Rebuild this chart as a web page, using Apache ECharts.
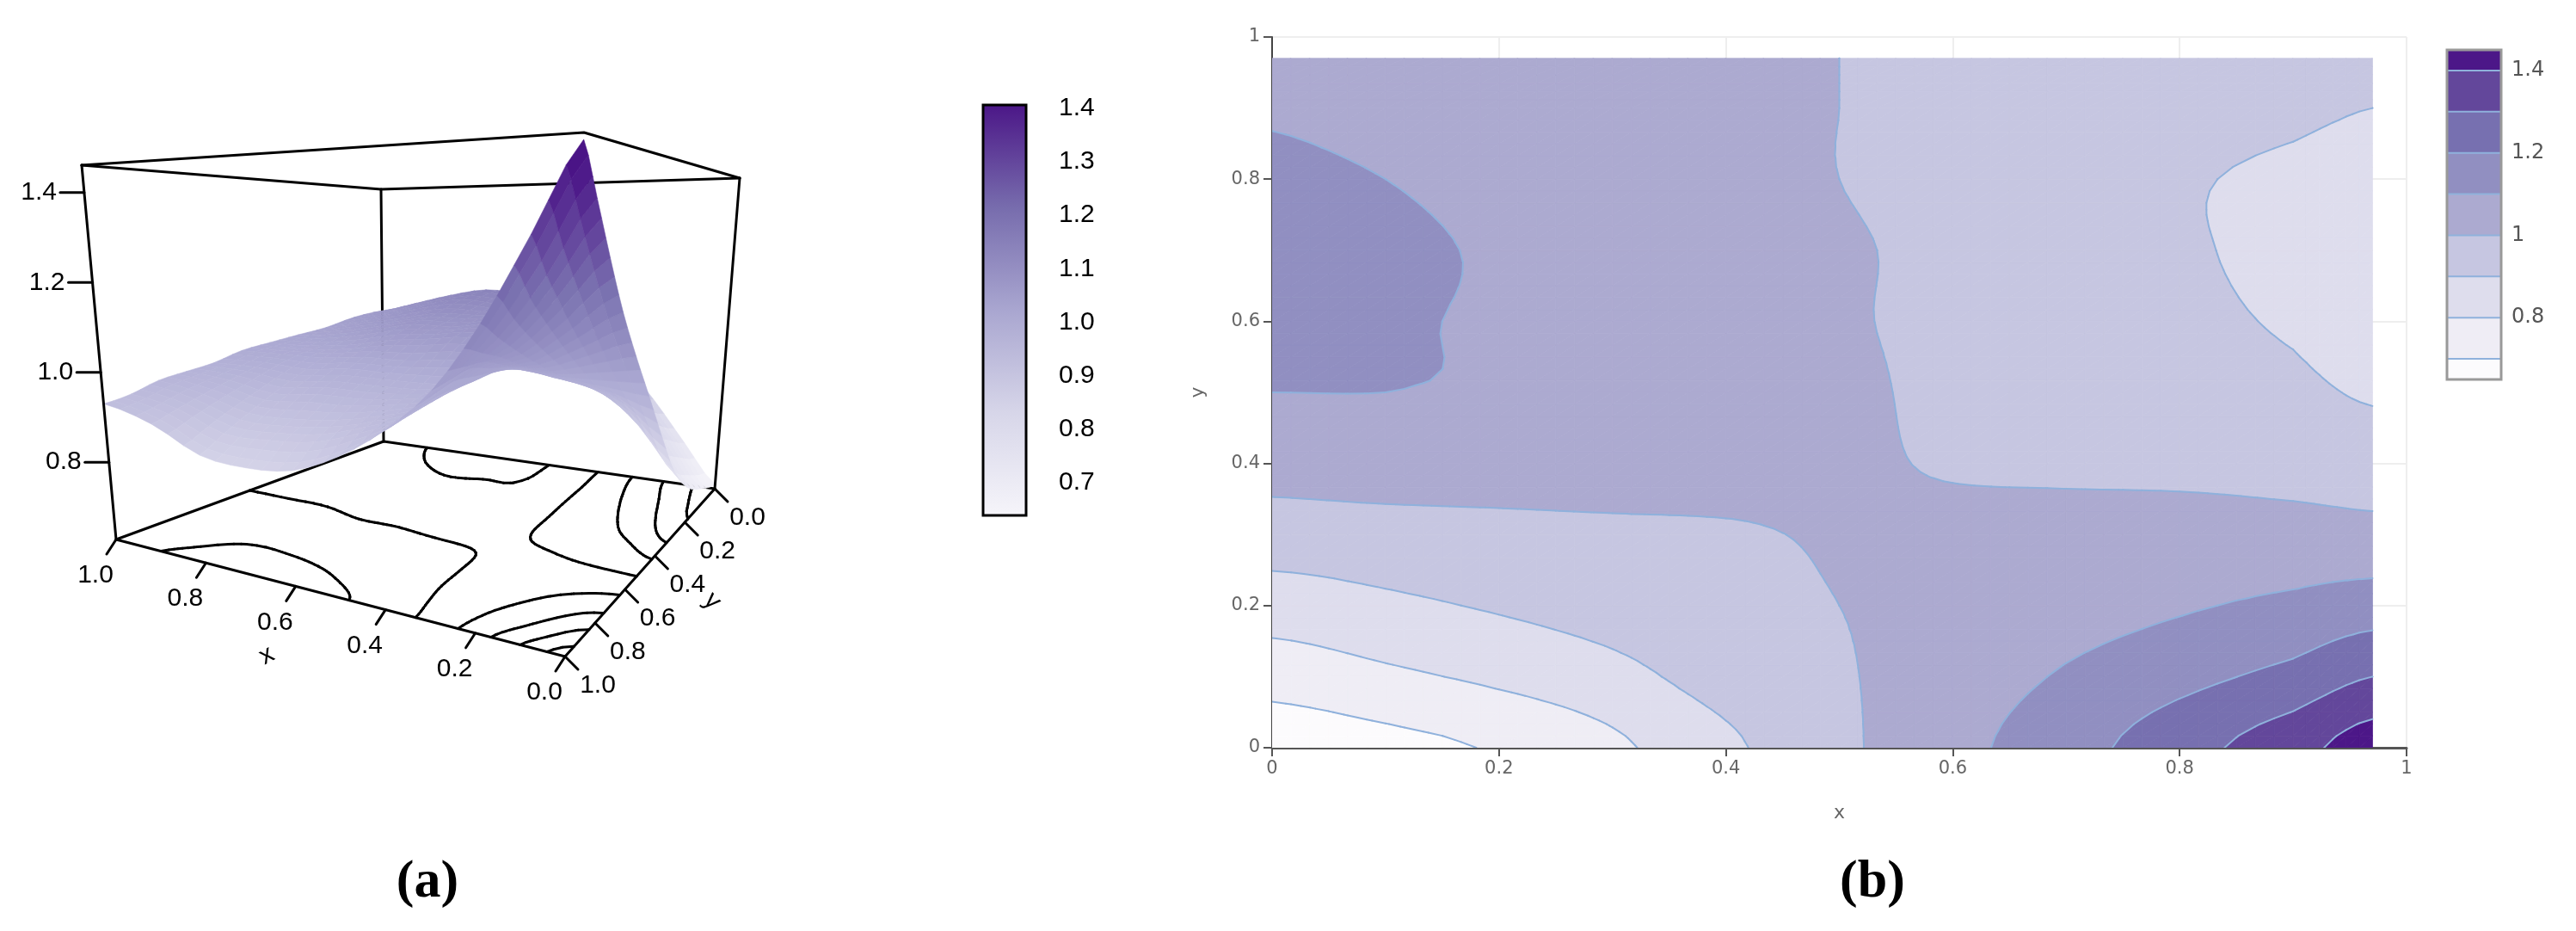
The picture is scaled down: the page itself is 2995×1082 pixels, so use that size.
<!DOCTYPE html>
<html><head><meta charset="utf-8">
<script src="https://cdn.jsdelivr.net/npm/echarts@6/dist/echarts.min.js"></script>
<style>html,body{margin:0;padding:0;background:#fff}#c{width:2995px;height:1082px}</style>
</head><body><div id="c"></div>
<script>
// ---- data ----
const xs = [0, 0.1, 0.2, 0.3, 0.4, 0.5, 0.6, 0.7, 0.8, 0.9, 0.97];
const ys = [0, 0.1, 0.2, 0.3, 0.4, 0.5, 0.6, 0.7, 0.8, 0.9, 0.97];
const z_y00 = [0.64,0.67,0.71,0.78,0.88,0.98,1.07,1.16,1.26,1.36,1.45];
const z_y01 = [0.74,0.78,0.82,0.87,0.94,0.99,1.05,1.11,1.17,1.23,1.30];
const z_y02 = [0.85,0.88,0.91,0.94,0.97,1.00,1.03,1.06,1.09,1.12,1.15];
const z_y03 = [0.95,0.96,0.97,0.98,0.99,1.01,1.03,1.04,1.05,1.04,1.03];
const z_y04 = [1.04,1.05,1.05,1.05,1.04,1.02,0.99,0.98,0.97,0.96,0.95];
const z_y05 = [1.10,1.10,1.09,1.08,1.06,1.02,0.98,0.96,0.94,0.92,0.89];
const z_y06 = [1.13,1.11,1.09,1.07,1.05,1.01,0.98,0.95,0.92,0.89,0.85];
const z_y07 = [1.14,1.12,1.09,1.07,1.04,1.01,0.98,0.95,0.91,0.88,0.84];
const z_y08 = [1.12,1.10,1.07,1.05,1.02,1.00,0.97,0.94,0.91,0.88,0.85];
const z_y09 = [1.09,1.07,1.05,1.03,1.01,1.00,0.98,0.96,0.94,0.92,0.90];
const z_y10 = [1.06,1.05,1.03,1.02,1.01,1.00,0.98,0.97,0.96,0.94,0.93];
const Z = [z_y00,z_y01,z_y02,z_y03,z_y04,z_y05,z_y06,z_y07,z_y08,z_y09,z_y10];
const levels = [0.6,0.7,0.8,0.9,1.0,1.1,1.2,1.3,1.4,1.5];
const bandColors = ['#fcfbfd','#efedf5','#dedded','#c6c6e1','#acaad0','#918fc1','#7770b0','#63479b','#4c1788'];
const ticks3D = [0,0.2,0.4,0.6,0.8,1.0];
const zTicks = [0.8,1.0,1.2,1.4];
const cbTicks = [0.7,0.8,0.9,1.0,1.1,1.2,1.3,1.4];
const legTicks = [0.8,1,1.2,1.4];
const g3 = [0,0.1,0.2,0.3,0.4,0.5,0.6,0.7,0.8,0.9,1.0];

// ---- layout of panel (a) box ----
const B = {c00:[831,568], c10:[446,513], c01:[657,763], c11:[135,627]};
const T = {c00:[860,207], c10:[443,220], c01:[679,154], c11:[95,192]};
const ZMIN = 0.628, ZMAX = 1.461;
function bil(C,x,y){return [0,1].map(k=>C.c00[k]*(1-x)*(1-y)+C.c10[k]*x*(1-y)+C.c01[k]*(1-x)*y+C.c11[k]*x*y);}
function proj(x,y,z){const b=bil(B,x,y),t=bil(T,x,y),s=(z-ZMIN)/(ZMAX-ZMIN);return [b[0]+s*(t[0]-b[0]),b[1]+s*(t[1]-b[1])];}

// smooth (Catmull-Rom) resampling of a grid for drawing
function cr(p0,p1,p2,p3,t){return 0.5*(2*p1+(-p0+p2)*t+(2*p0-5*p1+4*p2-p3)*t*t+(-p0+3*p1-3*p2+p3)*t*t*t);}
function refine(G,gx,gy,R){
  const n=gy.length,m=gx.length,cl=(v,a)=>Math.max(0,Math.min(a-1,v));
  const fx=[],fy=[];
  for(let k=0;k<=(m-1)*R;k++){const j=Math.min(m-2,Math.floor(k/R)),t=k/R-j;fx.push(gx[j]+t*(gx[j+1]-gx[j]));}
  for(let k=0;k<=(n-1)*R;k++){const i=Math.min(n-2,Math.floor(k/R)),t=k/R-i;fy.push(gy[i]+t*(gy[i+1]-gy[i]));}
  const rows=G.map(r=>{const o=[];for(let k=0;k<=(m-1)*R;k++){const j=Math.min(m-2,Math.floor(k/R)),t=k/R-j;o.push(cr(r[cl(j-1,m)],r[j],r[j+1],r[cl(j+2,m)],t));}return o;});
  const F=[];
  for(let k=0;k<=(n-1)*R;k++){const i=Math.min(n-2,Math.floor(k/R)),t=k/R-i;F.push(rows[0].map((_,c)=>cr(rows[cl(i-1,n)][c],rows[i][c],rows[i+1][c],rows[cl(i+2,n)][c],t)));}
  return {fx,fy,F};
}

const stops=[[0.6,[252,251,253]],[0.8,[222,221,237]],[1.0,[174,172,212]],[1.2,[122,114,176]],[1.4,[76,23,136]],[1.5,[66,10,125]]];
function col(v){for(let k=0;k<stops.length-1;k++){const a=stops[k],b=stops[k+1];if(v<=b[0]||k==stops.length-2){let t=(v-a[0])/(b[0]-a[0]);t=Math.max(0,Math.min(1,t));return 'rgb('+[0,1,2].map(m=>Math.round(a[1][m]+t*(b[1][m]-a[1][m]))).join(',')+')';}}}

function clipPoly(poly,level,above){const out=[];for(let k=0;k<poly.length;k++){const a=poly[k],b=poly[(k+1)%poly.length];const ia=above?a[2]>=level:a[2]<=level,ib=above?b[2]>=level:b[2]<=level;if(ia)out.push(a);if(ia!==ib){const t=(level-a[2])/(b[2]-a[2]);out.push([a[0]+t*(b[0]-a[0]),a[1]+t*(b[1]-a[1]),level]);}}return out;}
function triSeg(tri,lv){const level=lv+1e-7,pts=[];for(let k=0;k<3;k++){const a=tri[k],b=tri[(k+1)%3];if((a[2]-level)*(b[2]-level)<0){const t=(level-a[2])/(b[2]-a[2]);pts.push([a[0]+t*(b[0]-a[0]),a[1]+t*(b[1]-a[1])]);}}return pts.length==2?pts:null;}
function triangles(gx,gy,G){const tr=[];for(let i=0;i<gy.length-1;i++)for(let j=0;j<gx.length-1;j++){const v00=[gx[j],gy[i],G[i][j]],v10=[gx[j+1],gy[i],G[i][j+1]],v01=[gx[j],gy[i+1],G[i+1][j]],v11=[gx[j+1],gy[i+1],G[i+1][j+1]];tr.push([v00,v10,v11],[v00,v11,v01]);}return tr;}

// 3D surface grid: value at (x3 index a, y3 index b) = Z[a][b]; rows by y3
const Z3 = g3.map((_,b)=>g3.map((__,a)=>Z[a][b]));

const chart = echarts.init(document.getElementById('c'));
const FN='"Liberation Sans", Arial, sans-serif';

function render3D(params, api){
  const c=p=>api.coord(p);
  const ch=[];
  const line=(pts,w)=>ch.push({type:'polyline',shape:{points:pts.map(c)},style:{stroke:'#000',lineWidth:w||3,fill:null,lineCap:'round',lineJoin:'round'}});
  const P=proj;
  line([P(1,1,ZMIN),P(1,0,ZMIN),P(0,0,ZMIN)]);
  line([P(1,0,ZMIN),P(1,0,ZMAX)]);
  line([P(1,1,ZMAX),P(1,0,ZMAX),P(0,0,ZMAX)]);
  line([P(1,1,ZMIN),P(0,1,ZMIN),P(0,0,ZMIN)]);
  const r=refine(Z3,g3,g3,5);
  const tr=triangles(r.fx,r.fy,r.F);
  tr.forEach(t=>{for(let l=1;l<levels.length-1;l++){const s=triSeg(t,levels[l]);if(s)line([P(s[0][0],s[0][1],ZMIN),P(s[1][0],s[1][1],ZMIN)]);}});
  const rs=refine(Z3,g3,g3,3),cells=[];
  for(let i=0;i<rs.fy.length-1;i++)for(let j=0;j<rs.fx.length-1;j++){
    const x0=rs.fx[j],x1=rs.fx[j+1],y0=rs.fy[i],y1=rs.fy[i+1];
    const za=rs.F[i][j],zb=rs.F[i][j+1],zc=rs.F[i+1][j+1],zd=rs.F[i+1][j];
    cells.push({d:(x0+x1)/2+1-(y0+y1)/2,pts:[P(x0,y0,za),P(x1,y0,zb),P(x1,y1,zc),P(x0,y1,zd)],z:(za+zb+zc+zd)/4});
  }
  cells.sort((p,q)=>q.d-p.d);
  cells.forEach(cl=>{const f=col(cl.z);ch.push({type:'polygon',shape:{points:cl.pts.map(c)},style:{fill:f,stroke:f,lineWidth:0.6}});});
  line([P(1,1,ZMIN),P(1,1,ZMAX)]);
  line([P(0,0,ZMIN),P(0,0,ZMAX)]);
  line([P(1,1,ZMAX),P(0,1,ZMAX),P(0,0,ZMAX)]);
  const txt=(p,s,al,opt)=>ch.push(Object.assign({type:'text',x:c(p)[0],y:c(p)[1],style:{text:s,font:'30px '+FN,fill:'#000',align:al||'center',verticalAlign:'middle'}},opt||{}));
  zTicks.forEach(z=>{const p=P(1,1,z);line([p,[p[0]-28,p[1]]]);txt([p[0]-32,p[1]],z.toFixed(1),'right');});
  ticks3D.forEach(x=>{const p=P(x,1,ZMIN);line([p,[p[0]-11,p[1]+17]]);txt([p[0]-24,p[1]+42],x.toFixed(1));});
  ticks3D.forEach(y=>{const p=P(0,y,ZMIN);line([p,[p[0]+15,p[1]+15]]);txt([p[0]+38,p[1]+34],y.toFixed(1));});
  const mx=P(0.5,1,ZMIN),my=P(0,0.5,ZMIN);
  txt([mx[0]-86,mx[1]+67],'x','center',{rotation:0.5});
  txt([my[0]+84,my[1]+33],'y','center',{rotation:-0.8});
  return {type:'group',children:ch};
}

function renderContour(params, api){
  const ch=[];const c=p=>api.coord(p);
  const r=refine(Z,xs,ys,6);
  const tr=triangles(r.fx,r.fy,r.F);
  tr.forEach(t=>{for(let b=0;b<bandColors.length;b++){let p=clipPoly(t,levels[b],true);if(p.length<3)continue;p=clipPoly(p,levels[b+1],false);if(p.length<3)continue;ch.push({type:'polygon',shape:{points:p.map(q=>c([q[0],q[1]]))},style:{fill:bandColors[b],stroke:bandColors[b],lineWidth:0.8}});}});
  tr.forEach(t=>{for(let l=1;l<levels.length-1;l++){const s=triSeg(t,levels[l]);if(s)ch.push({type:'line',shape:{x1:c(s[0])[0],y1:c(s[0])[1],x2:c(s[1])[0],y2:c(s[1])[1]},style:{stroke:'#8fb1dc',lineWidth:2,lineCap:'round'}});}});
  return {type:'group',children:ch};
}

function renderLegend(params, api){
  const ch=[];const c=p=>api.coord(p);
  for(let b=0;b<bandColors.length;b++){
    const lo=Math.max(levels[b],0.65),hi=Math.min(levels[b+1],1.45);
    const p0=c([0,hi]),p1=c([1,lo]);
    ch.push({type:'rect',shape:{x:p0[0],y:p0[1],width:p1[0]-p0[0],height:p1[1]-p0[1]},style:{fill:bandColors[b]}});
    if(b>0) ch.push({type:'line',shape:{x1:p0[0],y1:p1[1],x2:p1[0],y2:p1[1]},style:{stroke:'#8fb1dc',lineWidth:2}});
  }
  const a=c([0,1.45]),d=c([1,0.65]);
  ch.push({type:'rect',shape:{x:a[0],y:a[1],width:d[0]-a[0],height:d[1]-a[1]},style:{fill:null,stroke:'#999',lineWidth:3}});
  return {type:'group',children:ch};
}

function renderCB(params, api){
  const a=api.coord([0,1.406]),d=api.coord([1,0.639]);
  return {type:'rect',shape:{x:a[0],y:a[1],width:d[0]-a[0],height:d[1]-a[1]},style:{stroke:'#000',lineWidth:3,
    fill:new echarts.graphic.LinearGradient(0,0,0,1,[{offset:0,color:col(1.406)},{offset:0.25,color:col(1.214)},{offset:0.5,color:col(1.02)},{offset:0.75,color:col(0.83)},{offset:1,color:col(0.639)}])}};
}

const hid={show:false};
chart.setOption({
  animation:false,
  grid:[
    {left:0,top:0,width:2995,height:1082},
    {left:1479,top:43,width:1319,height:826},
    {left:2845,top:58,width:63,height:383},
    {left:1143,top:122,width:50,height:477}
  ],
  xAxis:[
    {gridIndex:0,type:'value',min:0,max:2995,show:false},
    {gridIndex:1,type:'value',min:0,max:1,interval:0.2,name:'x',nameLocation:'middle',nameGap:65,nameTextStyle:{color:'#666',fontSize:22,fontFamily:'DejaVu Sans'},
      axisLine:{lineStyle:{color:'#555',width:3}},axisTick:{length:10,lineStyle:{color:'#555',width:2}},
      axisLabel:{color:'#666',fontSize:21,fontFamily:'DejaVu Sans',margin:14,formatter:v=>String(+v.toFixed(1))},splitLine:{show:true,lineStyle:{color:'#eee',width:2}}},
    {gridIndex:2,type:'value',min:0,max:1,show:false},
    {gridIndex:3,type:'value',min:0,max:1,show:false}
  ],
  yAxis:[
    {gridIndex:0,type:'value',min:0,max:1082,inverse:true,show:false},
    {gridIndex:1,type:'value',min:0,max:1,interval:0.2,name:'y',nameLocation:'middle',nameGap:75,nameTextStyle:{color:'#666',fontSize:22,fontFamily:'DejaVu Sans'},
      axisLine:{show:true,lineStyle:{color:'#444',width:2}},axisTick:{show:true,length:10,lineStyle:{color:'#555',width:2}},
      axisLabel:{color:'#666',fontSize:21,fontFamily:'DejaVu Sans',margin:14,formatter:v=>String(+v.toFixed(1))},splitLine:{show:true,lineStyle:{color:'#eee',width:2}}},
    {gridIndex:2,type:'value',min:0.65,max:1.45,position:'right',axisLine:hid,splitLine:hid,
      axisTick:{show:true,length:8,customValues:legTicks,lineStyle:{color:'#555',width:2}},
      axisLabel:{color:'#555',fontSize:24,fontFamily:'DejaVu Sans',margin:12,customValues:legTicks,formatter:v=>String(+v.toFixed(1))}},
    {gridIndex:3,type:'value',min:0.639,max:1.406,position:'right',axisLine:hid,splitLine:hid,
      axisTick:{show:true,length:22,customValues:cbTicks,lineStyle:{color:'#000',width:3}},
      axisLabel:{color:'#000',fontSize:30,fontFamily:'Liberation Sans',margin:38,customValues:cbTicks,formatter:v=>v.toFixed(1)}}
  ],
  series:[
    {type:'custom',xAxisIndex:1,yAxisIndex:1,data:[[0,0]],renderItem:renderContour,silent:true,clip:true},
    {type:'custom',xAxisIndex:0,yAxisIndex:0,data:[[0,0]],renderItem:render3D,silent:true},
    {type:'custom',xAxisIndex:2,yAxisIndex:2,data:[[0,0]],renderItem:renderLegend,silent:true},
    {type:'custom',xAxisIndex:3,yAxisIndex:3,data:[[0,0]],renderItem:renderCB,silent:true}
  ],
  graphic:[
    {type:'text',x:497,y:1026,style:{text:'(a)',font:'bold 62px "Liberation Serif", serif',fill:'#000',align:'center',verticalAlign:'middle'}},
    {type:'text',x:2177,y:1026,style:{text:'(b)',font:'bold 62px "Liberation Serif", serif',fill:'#000',align:'center',verticalAlign:'middle'}}
  ]
});
</script></body></html>
